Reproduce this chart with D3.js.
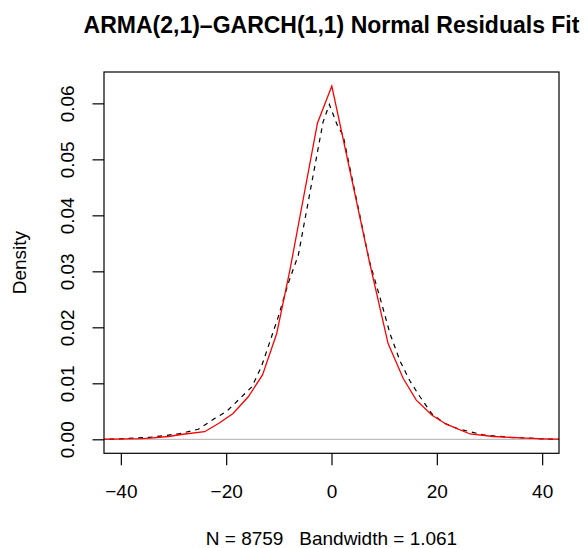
<!DOCTYPE html>
<html>
<head>
<meta charset="utf-8">
<script src="https://cdn.jsdelivr.net/npm/d3@7"></script>
<style>
  html, body { margin: 0; padding: 0; background: #fff; }
  svg text { font-family: "Liberation Sans", Arial, Helvetica, sans-serif; fill: #000; }
</style>
</head>
<body>
<div id="chart"></div>
<script>
// --- values ---
const xTicks = [-40, -20, 0, 20, 40];
const yTicks = [0, 0.01, 0.02, 0.03, 0.04, 0.05, 0.06];

// fitted curve (red, solid)
const fitX = [-44, -41.6, -36.0, -34.5, -31.0, -28.2, -24.1, -21.3, -18.7, -15.8, -13.1, -10.4, -7.9, -2.66,
              0.06, 7.27, 10.75, 13.6, 16.1, 19.1, 21.8, 26.3, 30.7, 37.0, 41.6, 44];
const fitY = [0.00001, 0.00002, 0.00012, 0.0002, 0.0005, 0.0009, 0.00136, 0.0029, 0.0046, 0.0076, 0.0115, 0.0189, 0.0302, 0.0565,
              0.0631, 0.0314, 0.0171, 0.0109, 0.0070, 0.0043, 0.0027, 0.00095, 0.0005, 0.0002, 0.00004, 0.00002];

// kernel density of residuals (black, dashed)
const kdeX = [-44, -41.6, -34.5, -28.8, -25.3, -22.2, -19.9, -17.7, -15.1, -13.3, -11.5, -10.1, -8.2, -6.3, -1.6, -0.4,
              1.1, 2.2, 7.2, 9.3, 11.1, 13.0, 14.9, 16.8, 19.1, 21.4, 23.9, 28.8, 33.9, 41.6, 44];
const kdeY = [0.00001, 0.00003, 0.00035, 0.0010, 0.0018, 0.0037, 0.0050, 0.0070, 0.0094, 0.0130, 0.0180, 0.0219, 0.0279, 0.0329, 0.0567, 0.0598,
              0.0561, 0.0543, 0.0318, 0.0250, 0.0189, 0.0140, 0.0104, 0.0076, 0.0045, 0.0029, 0.0019, 0.0008, 0.00035, 0.00003, 0.00001];

const titleText = "ARMA(2,1)\u2013GARCH(1,1) Normal Residuals Fit";
const yLabel = "Density";
const xLabel = "N = 8759   Bandwidth = 1.061";

document.addEventListener('DOMContentLoaded', () => {
    const W = 588, H = 548;
    const margin = {top: 72, right: 29, bottom: 94.7, left: 104};
    const width = W - margin.left - margin.right;
    const height = H - margin.top - margin.bottom;

    const svg = d3.select("#chart").append("svg")
        .attr("width", W)
        .attr("height", H);

    const g = svg.append("g")
        .attr("transform", `translate(${margin.left},${margin.top})`);

    const x = d3.scaleLinear().domain([-43.2, 43.2]).range([0, width]);
    const y = d3.scaleLinear().domain([-0.0025, 0.0656]).range([height, 0]);

    g.append("clipPath").attr("id", "plot-clip")
        .append("rect").attr("width", width).attr("height", height);

    const plot = g.append("g").attr("clip-path", "url(#plot-clip)");

    // zero line
    plot.append("line")
        .attr("x1", 0).attr("x2", width)
        .attr("y1", y(0)).attr("y2", y(0))
        .attr("stroke", "#bebebe").attr("stroke-width", 1.2);

    const line = d3.line().x(d => x(d[0])).y(d => y(d[1]));

    plot.append("path")
        .datum(kdeX.map((v, i) => [v, kdeY[i]]))
        .attr("d", line)
        .attr("fill", "none")
        .attr("stroke", "#000")
        .attr("stroke-width", 1.2)
        .attr("stroke-dasharray", "4.8,4.8");

    plot.append("path")
        .datum(fitX.map((v, i) => [v, fitY[i]]))
        .attr("d", line)
        .attr("fill", "none")
        .attr("stroke", "#ff0000")
        .attr("stroke-width", 1.3);

    // axes
    const xAxis = g.append("g")
        .attr("transform", `translate(0,${height})`)
        .call(d3.axisBottom(x).tickValues(xTicks).tickSize(12).tickPadding(0).tickFormat(d => d < 0 ? "\u2212" + Math.abs(d) : d));
    xAxis.select(".domain").remove();
    xAxis.selectAll("line").attr("stroke", "#000").attr("stroke-width", 1.2);
    xAxis.selectAll("text")
        .attr("y", 44.7).attr("dy", 0)
        .style("font-size", "19px");

    const yAxis = g.append("g")
        .call(d3.axisLeft(y).tickValues(yTicks).tickSize(11.5).tickFormat(d3.format(".2f")));
    yAxis.select(".domain").remove();
    yAxis.selectAll("line").attr("stroke", "#000").attr("stroke-width", 1.2);
    yAxis.selectAll("text")
        .attr("x", 0).attr("dy", 0)
        .attr("text-anchor", "middle")
        .attr("transform", "translate(-30,0) rotate(-90)")
        .style("font-size", "19px");

    // box
    g.append("rect")
        .attr("width", width).attr("height", height)
        .attr("fill", "none").attr("stroke", "#000").attr("stroke-width", 1.2);

    // labels
    svg.append("text")
        .attr("x", margin.left + width / 2).attr("y", 33)
        .attr("text-anchor", "middle")
        .style("font-size", "23px").style("font-weight", "bold")
        .text(titleText);

    svg.append("text")
        .attr("transform", `translate(25.5,${margin.top + height / 2}) rotate(-90)`)
        .attr("text-anchor", "middle")
        .style("font-size", "19px")
        .text(yLabel);

    svg.append("text")
        .attr("x", margin.left + width / 2).attr("y", 545)
        .attr("text-anchor", "middle")
        .style("font-size", "19px")
        .style("white-space", "pre")
        .text(xLabel);
});
</script>
</body>
</html>
